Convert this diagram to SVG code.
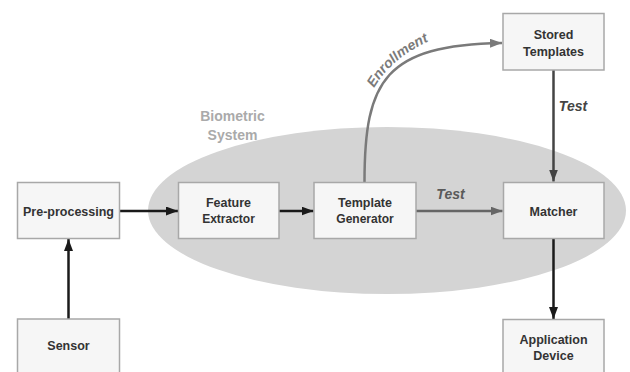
<svg xmlns="http://www.w3.org/2000/svg" width="630" height="372" viewBox="0 0 630 372">
<defs>
<style>
.box{fill:#f6f6f6;stroke:#a8a8a8;stroke-width:1.5}
.t{font-family:"Liberation Sans",Arial,sans-serif;font-weight:bold;font-size:12.5px;fill:#333;text-anchor:middle}
.t2{font-size:12px}
.lbl{font-family:"Liberation Sans",Arial,sans-serif;font-weight:bold;font-style:italic;font-size:14px;text-anchor:middle}
.sys{font-family:"Liberation Sans",Arial,sans-serif;font-weight:bold;font-size:14px;fill:#aaaaaa;text-anchor:middle}
.c{fill:none;stroke-width:2.5}
</style>
<marker id="aB" markerUnits="userSpaceOnUse" markerWidth="13" markerHeight="10" refX="12" refY="4.5" orient="auto"><path d="M0,0 L12,4.5 L0,9 z" fill="#1a1a1a"/></marker>
<marker id="aG" markerUnits="userSpaceOnUse" markerWidth="13" markerHeight="10" refX="12" refY="4.5" orient="auto"><path d="M0,0 L12,4.5 L0,9 z" fill="#666"/></marker>
<marker id="aD" markerUnits="userSpaceOnUse" markerWidth="13" markerHeight="10" refX="12" refY="4.5" orient="auto"><path d="M0,0 L12,4.5 L0,9 z" fill="#444"/></marker>
<marker id="aL" markerUnits="userSpaceOnUse" markerWidth="13" markerHeight="10" refX="12" refY="4.5" orient="auto"><path d="M0,0 L12,4.5 L0,9 z" fill="#7a7a7a"/></marker>
<path id="enrPath" d="M369,98 Q387,57 439,37"/>
</defs>
<rect width="630" height="372" fill="#ffffff"/>
<g id="biometric-system">
<ellipse cx="387" cy="210.5" rx="239" ry="83.5" fill="#d4d4d4"/>
<text class="sys" x="232.5" y="120.5">Biometric</text>
<text class="sys" x="232.5" y="139.5">System</text>
</g>
<g id="connectors">
<path class="c" stroke="#1a1a1a" d="M68.5,319 L68.5,239" marker-end="url(#aB)"/>
<path class="c" stroke="#1a1a1a" d="M119.5,211 L178,211" marker-end="url(#aB)"/>
<path class="c" stroke="#1a1a1a" d="M279,211 L313.5,211" marker-end="url(#aB)"/>
<path class="c" stroke="#666" d="M416,211 L502.5,211" marker-end="url(#aG)"/>
<path class="c" stroke="#444" d="M553.5,70 L553.5,181.5" marker-end="url(#aD)"/>
<path class="c" stroke="#1a1a1a" d="M553.5,238.5 L553.5,319" marker-end="url(#aB)"/>
<path class="c" stroke="#7a7a7a" d="M364.5,182 C364.5,80 385,45 502,43" marker-end="url(#aL)"/>
<text class="lbl" fill="#7a7a7a"><textPath href="#enrPath" startOffset="50%">Enrollment</textPath></text>
<text class="lbl" fill="#5a5a5a" x="450.5" y="199">Test</text>
<text class="lbl" fill="#444" x="573" y="111">Test</text>
</g>
<g id="pre-processing">
<rect class="box" x="17.5" y="182.5" width="102" height="56"/>
<text class="t" x="68.5" y="215.5">Pre-processing</text>
</g>
<g id="sensor">
<rect class="box" x="17.5" y="319" width="102" height="60"/>
<text class="t" x="68.5" y="350">Sensor</text>
</g>
<g id="feature-extractor">
<rect class="box" x="178.5" y="182.5" width="100.5" height="56"/>
<text class="t" x="228.5" y="207">Feature</text>
<text class="t t2" x="228.5" y="223">Extractor</text>
</g>
<g id="template-generator">
<rect class="box" x="314" y="182.5" width="102" height="56"/>
<text class="t" x="365" y="207">Template</text>
<text class="t t2" x="365" y="223">Generator</text>
</g>
<g id="matcher">
<rect class="box" x="503.5" y="182.5" width="100.5" height="56"/>
<text class="t" x="553.5" y="215.5">Matcher</text>
</g>
<g id="stored-templates">
<rect class="box" x="503" y="13.5" width="101" height="56.5"/>
<text class="t" x="553.5" y="38.5">Stored</text>
<text class="t" x="553.5" y="56">Templates</text>
</g>
<g id="application-device">
<rect class="box" x="503" y="319.5" width="101" height="60"/>
<text class="t" x="553.5" y="343.5">Application</text>
<text class="t" x="553.5" y="359.5">Device</text>
</g>
</svg>
